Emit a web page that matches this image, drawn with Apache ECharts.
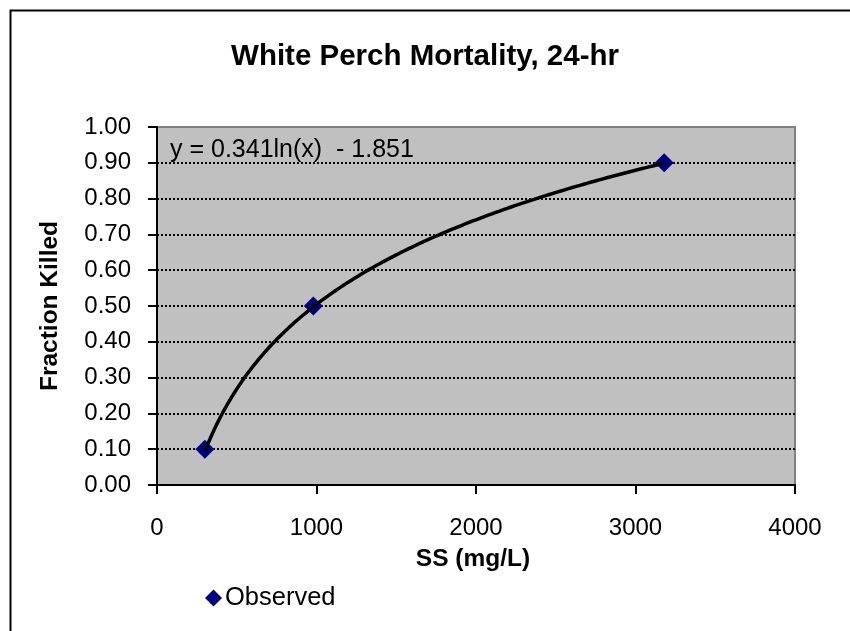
<!DOCTYPE html>
<html>
<head>
<meta charset="utf-8">
<script src="https://cdn.jsdelivr.net/npm/echarts@6/dist/echarts.min.js"></script>
<style>
  html, body { margin: 0; padding: 0; background: #fff; }
  #chart { width: 850px; height: 631px; }
</style>
</head>
<body>
<div id="chart"></div>
<script>
// Observed 24-hr mortality of white perch vs. suspended solids
const ssObserved = [300, 980, 3180];          // SS (mg/L)
const fractionKilled = [0.10, 0.50, 0.90];    // fraction killed

// Logarithmic trendline y = a ln(x) + b, as stated in the equation label
const trendA = 0.341;
const trendB = -1.851;

const xTicks = { min: 0, max: 4000, step: 1000 };
const yTicks = { min: 0, max: 1, step: 0.1 };

const FONT = '"Liberation Sans", Arial, sans-serif';

const observedPoints = ssObserved.map((x, i) => [x, fractionKilled[i]]);

// sample the fitted curve across the observed SS range
const trendPoints = [];
const x0 = ssObserved[0], x1 = ssObserved[ssObserved.length - 1];
const nSamples = 120;
for (let i = 0; i <= nSamples; i++) {
  const x = x0 + (x1 - x0) * i / nSamples;
  trendPoints.push([x, trendA * Math.log(x) + trendB]);
}

// split line colours: dotted black inside, grey at the top edge
const nLines = Math.round((yTicks.max - yTicks.min) / yTicks.step) + 1;
const splitColors = [];
for (let i = 0; i < nLines; i++) splitColors.push(i === nLines - 1 ? '#808080' : '#000000');

const chart = echarts.init(document.getElementById('chart'), null, { renderer: 'canvas' });

chart.setOption({
  animation: false,
  backgroundColor: '#ffffff',
  textStyle: { fontFamily: FONT },
  title: {
    text: 'White Perch Mortality, 24-hr',
    left: 'center',
    top: 37,
    textStyle: { fontFamily: FONT, fontSize: 29.5, fontWeight: 'bold', color: '#000' }
  },
  grid: {
    left: 157, top: 127, right: 55, bottom: 146,
    show: true,
    backgroundColor: '#c0c0c0',
    borderColor: '#808080',
    borderWidth: 2
  },
  legend: {
    data: ['Observed'],
    left: 200,
    top: 580,
    itemWidth: 17,
    itemHeight: 17,
    textStyle: { fontFamily: FONT, fontSize: 25.5, color: '#000', padding: [0, 0, 0, -2] }
  },
  xAxis: {
    type: 'value',
    min: xTicks.min, max: xTicks.max, interval: xTicks.step,
    name: 'SS (mg/L)',
    nameLocation: 'middle',
    nameGap: 62,
    nameTextStyle: { fontFamily: FONT, fontSize: 24.5, fontWeight: 'bold', color: '#000', padding: [0, 0, 0, -6] },
    axisLine: { show: true, onZero: false, lineStyle: { color: '#000', width: 2 } },
    axisTick: { show: true, length: 9, lineStyle: { color: '#000', width: 2 } },
    axisLabel: {
      margin: 31, fontFamily: FONT, fontSize: 24, color: '#000',
      formatter: v => String(v)
    },
    splitLine: { show: false }
  },
  yAxis: {
    type: 'value',
    min: yTicks.min, max: yTicks.max, interval: yTicks.step,
    name: 'Fraction Killed',
    nameLocation: 'middle',
    nameGap: 94,
    nameTextStyle: { fontFamily: FONT, fontSize: 24.5, fontWeight: 'bold', color: '#000' },
    axisLine: { show: true, onZero: false, lineStyle: { color: '#000', width: 2 } },
    axisTick: { show: true, length: 9, lineStyle: { color: '#000', width: 2 } },
    axisLabel: {
      margin: 26, fontFamily: FONT, fontSize: 24, color: '#000',
      formatter: v => v.toFixed(2)
    },
    splitLine: { show: true, lineStyle: { color: splitColors, width: 2, type: [2, 2] } }
  },
  graphic: [
    {
      // outer chart frame
      type: 'rect',
      left: 8, top: 8, z: 100,
      shape: { width: 900, height: 700 },
      style: { fill: 'none', stroke: '#000', lineWidth: 2 }
    },
    {
      type: 'text',
      left: 170, top: 138, z: 100,
      style: {
        text: 'y = 0.341ln(x)  - 1.851',
        font: '25px ' + FONT,
        fill: '#000'
      }
    }
  ],
  series: [
    {
      name: 'Observed',
      type: 'scatter',
      data: observedPoints,
      symbol: 'diamond',
      symbolSize: 19,
      itemStyle: { color: '#000080', opacity: 1 },
      z: 3
    },
    {
      name: 'Log trend',
      type: 'line',
      data: trendPoints,
      showSymbol: false,
      symbol: 'none',
      smooth: false,
      lineStyle: { color: '#000', width: 3.5 },
      z: 4,
      silent: true
    }
  ]
});
</script>
</body>
</html>
